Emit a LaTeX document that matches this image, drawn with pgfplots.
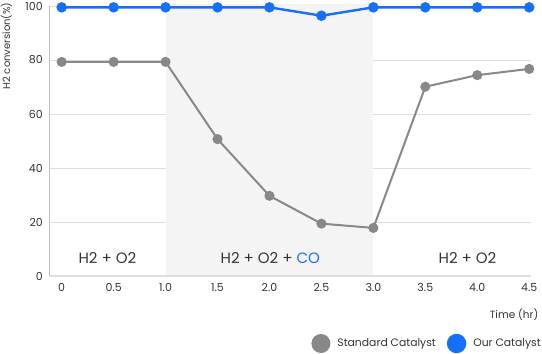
\documentclass[border=0pt]{standalone}
\usepackage{pgfplots}
\pgfplotsset{compat=1.18}
\usepackage{fontspec}
\setmainfont{Poppins}
\definecolor{ourblue}{RGB}{22,112,245}
\definecolor{stdgray}{RGB}{136,136,136}
\definecolor{txt}{RGB}{51,51,51}
\definecolor{gridc}{RGB}{222,222,222}
\definecolor{shadec}{RGB}{244,244,244}
\begin{document}
\begin{tikzpicture}
\useasboundingbox (-49.3pt,-78pt) rectangle (492.7pt,276pt);
\begin{axis}[
  scale only axis, width=482pt, height=270pt,
  xmin=-0.119, xmax=4.52, ymin=0, ymax=100,
  axis x line*=bottom, axis y line*=left,
  x axis line style={draw=gridc, line width=2pt, -},
  y axis line style={draw=gridc!85!black, line width=0.8pt, -},
  xtick={0,0.5,1,1.5,2,2.5,3,3.5,4,4.5},
  xticklabels={0,0.5,1.0,1.5,2.0,2.5,3.0,3.5,4.0,4.5},
  ytick={0,20,40,60,80,100},
  major tick length=0pt,
  ymajorgrids, grid style={draw=gridc, line width=0.8pt},
  tick label style={font=\fontsize{11}{13}\selectfont, text=txt},
  yticklabel style={xshift=-3pt},
  xticklabel style={yshift=-4pt},
  /pgf/number format/assume math mode=true,
  xlabel={Time (hr)},
  xlabel style={at={(axis description cs:1.022,-0.144)}, anchor=east, font=\fontsize{10.5}{12}\selectfont, text=txt},
  ylabel={H2 conversion(\%)},
  ylabel style={at={(axis description cs:-0.089,0.852)}, anchor=center, font=\fontsize{10}{12}\selectfont, text=txt},
  legend columns=2,
  legend image code/.code={\fill[#1] (0pt,0pt) circle (8.5pt);},
  legend style={at={(axis description cs:1.0201,-0.25)}, anchor=east, draw=none, fill=none,
    font=\fontsize{10.8}{12}\selectfont, text=txt, inner sep=0pt,
    nodes={inner sep=0pt},
    /tikz/every odd column/.append style={column sep=7pt},
    /tikz/every even column/.append style={column sep=11pt}},
  clip=false,
]
\addplot[draw=none, fill=shadec, forget plot] coordinates {(1,0.3) (1,100.6) (3,100.6) (3,0.3)} -- cycle;
\addplot[color=stdgray, line width=2pt, mark=*, mark size=4pt] coordinates {
  (0,79.3) (0.5,79.3) (1.0,79.3) (1.5,50.7) (2.0,29.7) (2.5,19.4) (3.0,17.8) (3.5,70.1) (4.0,74.4) (4.5,76.7)};
\addlegendentry{Standard Catalyst}
\addplot[color=ourblue, line width=2.4pt, mark=*, mark size=4pt] coordinates {
  (0,99.5) (0.5,99.5) (1.0,99.5) (1.5,99.5) (2.0,99.5) (2.5,96.4) (3.0,99.5) (3.5,99.5) (4.0,99.5) (4.5,99.5)};
\addlegendentry{Our Catalyst}
\node[anchor=base, font=\fontsize{15}{17}\selectfont, text=txt] at (axis cs:0.44,4.7) {H2 + O2};
\node[anchor=base, font=\fontsize{15}{17}\selectfont, text=txt] at (axis cs:2.008,4.7) {H2 + O2 + \textcolor{ourblue}{CO}};
\node[anchor=base, font=\fontsize{15}{17}\selectfont, text=txt] at (axis cs:3.906,4.7) {H2 + O2};
\end{axis}
\end{tikzpicture}
\end{document}
